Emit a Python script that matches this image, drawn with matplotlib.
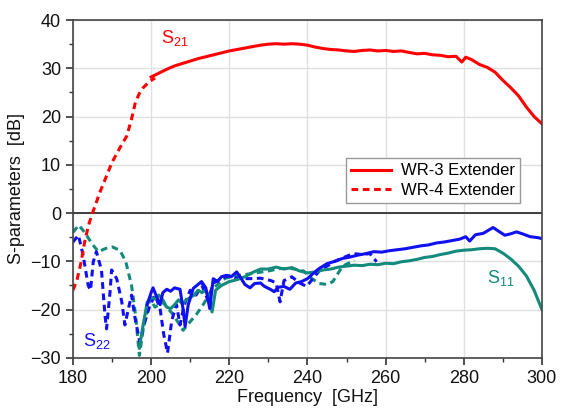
import matplotlib
matplotlib.use("Agg")
import matplotlib.pyplot as plt
from matplotlib.ticker import MultipleLocator

plt.rcParams['font.family'] = ['Liberation Sans', 'DejaVu Sans']
plt.rcParams['mathtext.fontset'] = 'custom'
plt.rcParams['mathtext.rm'] = 'Liberation Sans'

# ---- data ----
s21_wr4_f = [180, 181, 182, 183, 184, 185, 187, 189, 190, 192, 193.8, 195, 196, 197, 198, 199.5, 201]
s21_wr4 = [-16, -14, -10.5, -6, -2.5, 0, 4.5, 8.5, 10.5, 13.5, 16, 19.5, 23, 24.8, 26, 27.2, 28]

s21_wr3_f = [200, 202, 204, 206, 208, 210, 212, 214, 216, 218, 220, 222, 224, 226, 228, 230, 232, 234,
             236, 238, 240, 242, 244, 246, 248, 250, 252, 254, 256, 258, 260, 262, 264, 266, 268, 270,
             272, 274, 276, 278, 279.5, 280.5, 282, 284, 286, 288, 290, 292, 294, 296, 298, 300]
s21_wr3 = [28.2, 29.0, 29.8, 30.5, 31.0, 31.5, 32.0, 32.4, 32.8, 33.2, 33.6, 33.9, 34.2, 34.5, 34.8,
           35.0, 35.1, 35.0, 35.1, 35.0, 34.8, 34.4, 34.1, 33.9, 33.8, 33.6, 33.5, 33.7, 33.8, 33.6,
           33.7, 33.5, 33.6, 33.3, 33.0, 33.1, 32.8, 32.7, 32.4, 32.5, 31.3, 32.3, 31.8, 30.8, 30.2,
           29.2, 27.5, 26.0, 24.3, 22.0, 20.0, 18.5]

s11_wr4_f = [180, 181.5, 183, 185, 186.5, 188.5, 190, 192, 193.5, 195, 196, 197, 198, 199.7, 201,
             203, 205.6, 208.2, 210, 211.6, 213.3, 216, 219, 222, 226, 230, 233, 236, 239, 241, 243,
             245, 246.5, 249, 252]
s11_wr4 = [-4, -2.5, -4, -6.5, -8, -7.3, -7, -7.7, -10, -15, -21, -29.5, -24, -17.7, -19.5,
           -18.5, -21, -24.3, -22.5, -21, -19, -15.5, -13.5, -13, -12.5, -12, -11.5, -11.5, -12,
           -13.5, -14.6, -14.8, -14.2, -11, -9.8]

s11_wr3_f = [197, 198, 199, 200, 201, 202, 203, 204, 205, 206, 207, 208, 209, 210, 211, 212, 213,
             214, 215, 215.6, 216.5, 218, 220, 222, 224, 226, 228, 230, 232, 234, 236, 238, 240,
             242, 244, 246, 248, 250, 252, 254, 256, 258, 260, 262, 264, 266, 268, 270, 272, 274,
             276, 278, 280, 282, 284, 286, 288, 290, 292, 294, 296, 298, 300]
s11_wr3 = [-28, -23, -18.5, -17.5, -17.8, -17, -18, -19.5, -19.8, -19, -18, -18.8, -18, -17.5,
           -17, -16, -16.5, -16, -18, -20.5, -16, -15, -14.2, -13.8, -13.2, -12.3, -11.6, -11.6,
           -11.2, -11.6, -11.3, -12.0, -12.4, -12.2, -11.8, -11.6, -11.2, -11.0, -10.8, -10.9,
           -10.6, -10.7, -10.4, -10.5, -10.1, -9.9, -9.6, -9.2, -9.0, -8.6, -8.3, -7.9, -7.7,
           -7.6, -7.4, -7.3, -7.4, -8.3, -9.5, -11.0, -13.0, -16.0, -20.0]

s22_wr4_f = [180, 181.4, 182.6, 183.9, 184.5, 185.2, 186, 187.3, 188.2, 188.6, 189.5, 189.9, 191.2,
             192.5, 193.3, 194.2, 195, 195.9, 197.1, 198.4, 199.7, 201, 202.3, 203.2, 204.2, 205.3,
             206.5, 207.4, 208.5, 210, 211.5, 213, 214.5, 216, 218, 220, 222, 225, 228, 230.7,
             232, 233, 234, 236, 238, 239.8, 241.5, 243, 245, 247, 249, 251.7, 254, 256, 257.7]
s22_wr4 = [-6, -4.6, -8.7, -15, -16, -10.1, -8, -11.8, -21.2, -24, -16.3, -11.8, -13.6, -18.4,
           -23.2, -19.8, -17, -21.8, -26.7, -22.5, -19.1, -17, -19.8, -25, -29, -22.2, -19, -23.2,
           -19, -16, -17, -15, -18, -14.5, -13.5, -13, -13.5, -13.6, -13.5, -14, -14.5, -18.4,
           -14, -13.2, -14.5, -15.2, -13.5, -12, -11, -10, -9.3, -8.4, -8.6, -8.4, -10.1]

s22_wr3_f = [199, 200, 200.5, 201.5, 202.3, 203, 204, 205, 206, 207.4, 208.2, 208.7, 209.5, 210.8,
             212, 212.9, 214, 215, 215.9, 217, 218, 219.3, 220.5, 221.9, 223, 224, 225.3, 226.5,
             228, 229, 230.5, 231.5, 232.5, 234, 235.5, 237, 238.5, 240, 241.5, 243, 245, 247,
             249, 251, 253, 255, 257, 259, 261, 263, 265, 267, 269, 271, 273, 275, 277, 279,
             280.5, 281.5, 283, 285, 287.5, 289, 290.5, 292, 293.5, 295, 297, 299, 300]
s22_wr3 = [-19, -16.5, -15.5, -17.5, -19, -16.5, -15.8, -16.2, -15.5, -15.8, -20, -23.5, -19,
           -15.6, -14.8, -14.2, -15.5, -19.8, -13.6, -14.2, -13.2, -12.9, -13.2, -12.2, -13.5,
           -14.8, -15.5, -14.6, -14.5, -15.2, -15.8, -16.3, -15.4, -15.2, -15.8, -14.5, -14.2,
           -13.6, -12.5, -11.5, -10.5, -10.0, -9.4, -9.1, -8.7, -8.4, -8.0, -8.1, -7.8, -7.6,
           -7.4, -7.1, -6.8, -6.6, -6.2, -6.0, -5.7, -5.4, -4.9, -5.8, -4.5, -4.2, -3.0, -3.8,
           -4.6, -4.3, -3.9, -4.3, -4.9, -5.1, -5.3]

RED = '#ff0000'
BLUE = '#1010f0'
TEAL = '#138a7c'

fig = plt.figure(figsize=(5.61, 4.18), dpi=100)
ax = fig.add_axes([0.130, 0.144, 0.836, 0.808])

lw = 2.2
dash = (0, (2.2, 1.5))
ax.plot(s11_wr4_f, s11_wr4, color=TEAL, lw=lw, linestyle=dash)
ax.plot(s22_wr4_f, s22_wr4, color=BLUE, lw=lw, linestyle=dash)
ax.plot(s11_wr3_f, s11_wr3, color=TEAL, lw=lw)
ax.plot(s22_wr3_f, s22_wr3, color=BLUE, lw=lw)
ax.plot(s21_wr4_f, s21_wr4, color=RED, lw=lw, linestyle=dash, label='WR-4 Extender')
ax.plot(s21_wr3_f, s21_wr3, color=RED, lw=lw, label='WR-3 Extender')

ax.axhline(0, color='#222222', lw=1.2, zorder=1)

ax.set_xlim(180, 300)
ax.set_ylim(-30, 40)
ax.xaxis.set_major_locator(MultipleLocator(20))
ax.xaxis.set_minor_locator(MultipleLocator(10))
ax.yaxis.set_major_locator(MultipleLocator(10))
ax.yaxis.set_minor_locator(MultipleLocator(5))
ax.grid(True, which='major', color='#e0e0e0', lw=1.0)
ax.set_axisbelow(True)
ax.tick_params(which='both', direction='out', top=False, right=False, labelsize=13, colors='#333333')
ax.tick_params(which='major', length=5, width=1.2)
ax.tick_params(which='minor', length=3, width=1.0)
for s in ax.spines.values():
    s.set_color('#444444')
    s.set_linewidth(1.2)
for lab in ax.get_xticklabels() + ax.get_yticklabels():
    lab.set_color('#111111')

ax.set_xlabel('Frequency  [GHz]', fontsize=13, color='#111111', labelpad=2)
ax.set_ylabel('S-parameters  [dB]', fontsize=13, color='#111111', labelpad=4)

h, l = ax.get_legend_handles_labels()
leg = ax.legend(h[::-1], l[::-1], loc='upper left', bbox_to_anchor=(0.565, 0.615), fontsize=12,
                frameon=True, fancybox=False, edgecolor='#999999', framealpha=1,
                handlelength=2.4, borderpad=0.3, labelspacing=0.25, handletextpad=0.6)
leg.get_frame().set_linewidth(1.0)

ax.text(202.5, 35.3, r'S$_{\mathregular{21}}$', color=RED, fontsize=13)
ax.text(182.5, -27.5, r'S$_{\mathregular{22}}$', color=BLUE, fontsize=13)
ax.text(286, -14.5, r'S$_{\mathregular{11}}$', color=TEAL, fontsize=13)

fig.savefig('out.png', dpi=100)
